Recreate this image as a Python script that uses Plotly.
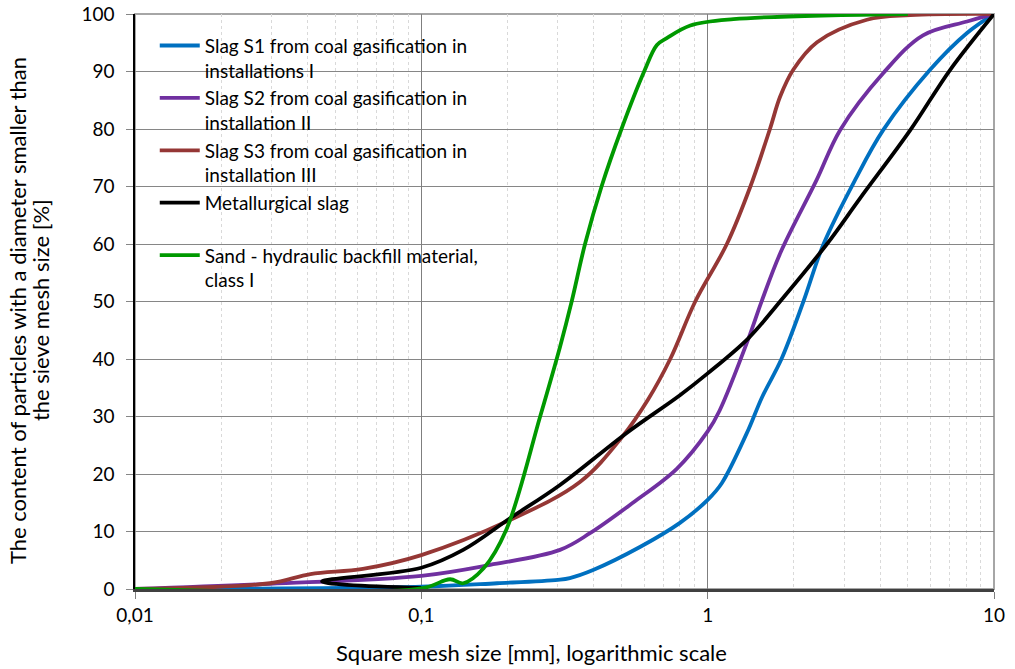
import plotly.graph_objects as go

# Grain-size distribution curves (sieve mesh size in mm, cumulative % passing)
s1_x = [0.01, 0.1, 0.184, 0.30, 0.33, 0.398, 0.58, 0.80, 1.0, 1.12, 1.37, 1.55, 1.81, 2.16, 2.54, 3.27, 4.10, 5.98, 8.05, 10]
s1_y = [0.0, 0.4, 1.0, 1.6, 1.9, 3.3, 7.3, 11.5, 15.5, 18.4, 27.1, 33.4, 40.0, 50.0, 60.0, 71.1, 79.8, 90.3, 96.7, 100]

s2_x = [0.01, 0.0296, 0.1, 0.174, 0.305, 0.388, 0.548, 0.78, 1.0, 1.10, 1.387, 1.54, 1.80, 2.40, 2.90, 4.10, 5.65, 8.05, 10]
s2_y = [0.0, 0.9, 2.3, 4.2, 6.8, 9.7, 15.0, 20.9, 27.4, 31.0, 43.5, 49.9, 58.6, 71.1, 79.8, 89.7, 96.3, 98.7, 100]

s3_x = [0.01, 0.0296, 0.041, 0.0625, 0.1, 0.204, 0.358, 0.50, 0.62, 0.74, 0.905, 1.167, 1.41, 1.65, 1.79, 1.99, 2.41, 3.6, 5.1, 10]
s3_y = [0.0, 1.0, 2.6, 3.5, 5.9, 12.0, 18.6, 26.3, 33.0, 40.0, 50.0, 60.0, 70.0, 80.0, 85.6, 90.3, 95.1, 99.0, 99.8, 100]

met_x = [0.1, 0.045, 0.1, 0.14, 0.204, 0.305, 0.52, 0.80, 1.0, 1.387, 1.79, 2.61, 3.40, 5.1, 7.03, 10]
met_y = [0.2, 1.3, 3.7, 6.8, 12.3, 18.1, 27.1, 33.7, 37.5, 43.6, 50.0, 60.0, 67.9, 79.8, 90.3, 100]

sand_x = [0.01, 0.1, 0.126, 0.14, 0.165, 0.198, 0.26, 0.305, 0.335, 0.373, 0.426, 0.50, 0.60, 0.665, 0.72, 0.87, 1.23, 5.0]
sand_y = [0.0, 0.1, 1.7, 1.0, 3.6, 10.3, 30.0, 42.1, 50.0, 60.0, 70.0, 80.0, 90.0, 94.6, 95.8, 98.0, 99.1, 100]

series = [
    ("Slag S1 from coal gasification in<br>installations I", s1_x, s1_y, "#0070C0"),
    ("Slag S2 from coal gasification in<br>installation II", s2_x, s2_y, "#7030A0"),
    ("Slag S3 from coal gasification in<br>installation III", s3_x, s3_y, "#953735"),
    ("Metallurgical slag<br> ", met_x, met_y, "#000000"),
    ("Sand - hydraulic backfill material,<br>class I", sand_x, sand_y, "#009900"),
]

x_major = [0.01, 0.1, 1, 10]
x_major_text = ["0,01", "0,1", "1", "10"]
x_minor = [m * d for d in (0.01, 0.1, 1) for m in range(2, 10)]
y_ticks = list(range(0, 101, 10))

y_title_lines = ["The content of particles with a diameter smaller than",
                 "the sieve mesh size [%]"]
x_title = "Square mesh size [mm], logarithmic scale"

FONT = "Lato"

fig = go.Figure()
for name, xs, ys, col in series:
    fig.add_trace(go.Scatter(
        x=xs, y=ys, name=name, mode="lines",
        line=dict(color=col, width=3.8, shape="spline", smoothing=1.0),
    ))

# invisible trace that carries the decade gridlines on an overlaid axis
fig.add_trace(go.Scatter(x=[0.01, 10], y=[0, 0], xaxis="x2", mode="lines",
                         line=dict(width=0), showlegend=False, hoverinfo="skip"))

fig.update_layout(
    width=1015, height=669,
    margin=dict(l=135, r=21, t=14, b=80, autoexpand=False),
    paper_bgcolor="white", plot_bgcolor="white",
    font=dict(family=FONT, size=18, color="#000000"),
    showlegend=True,
    legend=dict(
        x=0.023, y=0.978, xanchor="left", yanchor="top",
        bgcolor="rgba(255,255,255,0)", borderwidth=0,
        font=dict(family=FONT, size=19, color="#000000"),
        valign="top", itemwidth=40, tracegroupgap=0,
    ),
    xaxis=dict(
        type="log", range=[-2, 1],
        tickvals=x_minor, ticktext=[""] * len(x_minor),
        showgrid=True, gridcolor="#d9d9d9", griddash="dot", gridwidth=1,
        ticks="", showline=False, zeroline=False, automargin=False,
    ),
    xaxis2=dict(
        type="log", range=[-2, 1], overlaying="x", side="bottom",
        tickvals=x_major, ticktext=x_major_text,
        showgrid=True, gridcolor="#7f7f7f", gridwidth=1,
        ticks="outside", ticklen=7, tickcolor="#7f7f7f",
        showline=True, linecolor="#404040", linewidth=2.5,
        tickfont=dict(family=FONT, size=19), zeroline=False, automargin=False,
    ),
    yaxis=dict(
        range=[0, 100], tickvals=y_ticks,
        showgrid=True, gridcolor="#868686", gridwidth=1,
        ticks="outside", ticklen=7, tickcolor="#868686",
        showline=True, linecolor="#000000", linewidth=1.5,
        tickfont=dict(family=FONT, size=19), ticklabelstandoff=8,
        zeroline=False, automargin=False,
    ),
    shapes=[
        dict(type="rect", xref="paper", yref="paper", x0=0, x1=1, y0=0, y1=1,
             line=dict(color="#a6a6a6", width=2), layer="below"),
        # white panel behind the legend, hiding the gridlines there
        dict(type="rect", xref="paper", yref="paper", x0=0.002, x1=0.433, y0=0.508, y1=0.972,
             fillcolor="white", line=dict(width=0), layer="between"),
    ],
    annotations=[
        dict(text=x_title, xref="paper", yref="paper",
             x=0.462, y=-0.1096, xanchor="center", yanchor="middle", showarrow=False,
             font=dict(family=FONT, size=22)),
        dict(text=y_title_lines[0], xref="paper", yref="paper", x=-0.1374, y=0.485,
             xanchor="center", yanchor="middle", textangle=-90, showarrow=False,
             font=dict(family=FONT, size=22)),
        dict(text=y_title_lines[1], xref="paper", yref="paper", x=-0.1106, y=0.485,
             xanchor="center", yanchor="middle", textangle=-90, showarrow=False,
             font=dict(family=FONT, size=22)),
    ],
)

fig.write_html("out.html")
